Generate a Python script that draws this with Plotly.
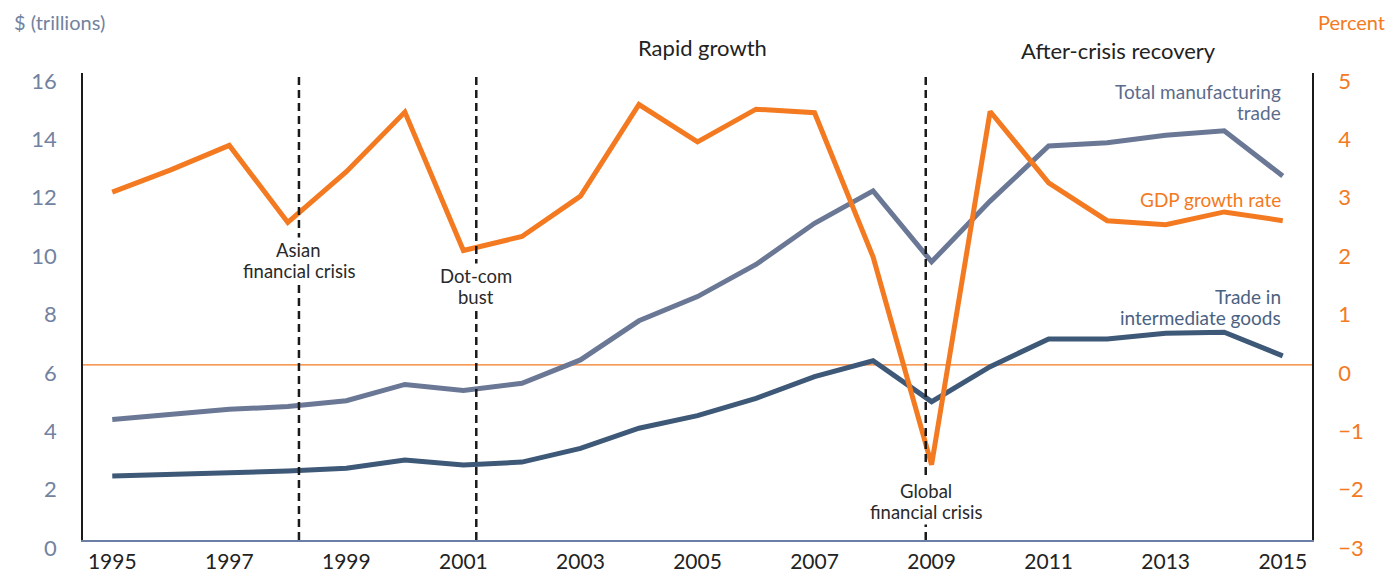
import plotly.graph_objects as go

years = list(range(1995, 2016))
total_manufacturing = [4.13, 4.32, 4.48, 4.57, 4.77, 5.33, 5.12, 5.37, 6.17, 7.51, 8.34,
                       9.44, 10.85, 11.96, 9.53, 11.61, 13.50, 13.61, 13.87, 14.02, 12.47]
intermediate_goods = [2.19, 2.24, 2.32, 2.36, 2.46, 2.74, 2.57, 2.67, 3.14, 3.83, 4.26,
                      4.85, 5.60, 6.14, 4.74, 5.94, 6.89, 6.89, 7.08, 7.12, 6.31]
gdp_growth = [2.96, 3.34, 3.76, 2.44, 3.31, 4.33, 1.96, 2.20, 2.89, 4.46, 3.82,
              4.38, 4.32, 1.85, -1.71, 4.34, 3.12, 2.47, 2.40, 2.62, 2.47]

left_ticks = list(range(0, 17, 2))
right_ticks = list(range(-3, 6))
x_ticks = list(range(1995, 2016, 2))

events = [(["Asian", "financial crisis"], 1998.19, 9.59),
          (["Dot-com", "bust"], 2001.22, 8.67),
          (["Global", "financial crisis"], 2008.9, 1.31)]

ORANGE = "#f37a21"
SLATE = "#6a7896"
DARK = "#3e5877"
TICK_SLATE = "#7282a0"
FONT = "Lato"
LINE_GAP = 21

fig = go.Figure()
fig.add_trace(go.Scatter(x=years, y=intermediate_goods, mode="lines",
                         line=dict(color=DARK, width=5), yaxis="y", showlegend=False))
fig.add_trace(go.Scatter(x=years, y=total_manufacturing, mode="lines",
                         line=dict(color=SLATE, width=5), yaxis="y", showlegend=False))
fig.add_trace(go.Scatter(x=years, y=gdp_growth, mode="lines",
                         line=dict(color=ORANGE, width=5), yaxis="y2", showlegend=False))

# zero line for GDP growth
fig.add_shape(type="line", xref="paper", x0=0, x1=1, yref="y2", y0=0, y1=0,
              line=dict(color=ORANGE, width=1.3), layer="below")


def multiline(lines, x, y, xanchor, font, bg=None):
    n = len(lines)
    for i, ln in enumerate(lines):
        shift = ((n - 1) / 2 - i) * LINE_GAP
        kw = dict(bgcolor=bg) if bg else {}
        fig.add_annotation(text=ln, x=x, y=y, xref="x", yref="y", yshift=shift,
                           showarrow=False, xanchor=xanchor, yanchor="middle",
                           font=font, **kw)


for lines, xv, yv in events:
    fig.add_shape(type="line", xref="x", x0=xv, x1=xv, yref="paper", y0=0, y1=1,
                  line=dict(color="#1a1a1a", width=2.5, dash="8px,5px"), layer="above")
    multiline(lines, xv, yv, "center", dict(family=FONT, size=18.5, color="#2a2a2a"), bg="white")

multiline(["Total manufacturing", "trade"], 2015, 14.99, "right",
          dict(family=FONT, size=19, color="#5b6b8b"))
multiline(["GDP growth rate"], 2015, 11.68, "right",
          dict(family=FONT, size=19, color=ORANGE))
multiline(["Trade in", "intermediate goods"], 2015, 7.97, "right",
          dict(family=FONT, size=19, color="#4a6282"))

fig.add_annotation(text="Rapid growth", x=2005.08, y=1.054, xref="x", yref="paper",
                   showarrow=False, xanchor="center", yanchor="middle",
                   font=dict(family=FONT, size=22, color="#222222"))
fig.add_annotation(text="After-crisis recovery", x=2012.2, y=1.049, xref="x", yref="paper",
                   showarrow=False, xanchor="center", yanchor="middle",
                   font=dict(family=FONT, size=22, color="#222222"))
fig.add_annotation(text="$ (trillions)", x=-0.058, y=1.109, xref="paper", yref="paper",
                   showarrow=False, xanchor="left", yanchor="middle",
                   font=dict(family=FONT, size=20, color=TICK_SLATE))
fig.add_annotation(text="Percent", x=1.061, y=1.109, xref="paper", yref="paper",
                   showarrow=False, xanchor="right", yanchor="middle",
                   font=dict(family=FONT, size=20, color=ORANGE))

fig.update_layout(
    width=1390, height=573,
    margin=dict(l=83, r=78, t=73, b=33, autoexpand=False),
    paper_bgcolor="white", plot_bgcolor="white",
    font=dict(family=FONT),
    xaxis=dict(range=[1994.5, 2015.5], tickvals=x_ticks, ticktext=[str(v) for v in x_ticks],
               showgrid=False, zeroline=False, showline=True, linecolor="#6a7ea6", linewidth=1.5,
               ticks="", tickfont=dict(family=FONT, size=21, color="#222222"),
               ticklabelstandoff=2, automargin=False),
    yaxis=dict(range=[0, 16], tickvals=left_ticks, showgrid=False, zeroline=False,
               showline=True, linecolor="#1a1a1a", linewidth=1.5, ticks="",
               tickfont=dict(family=FONT, size=22, color=TICK_SLATE),
               ticklabelstandoff=20, ticklabelshift=8, automargin=False),
    yaxis2=dict(range=[-3, 5], tickvals=right_ticks, overlaying="y", side="right",
                showgrid=False, zeroline=False, showline=True, linecolor="#1a1a1a",
                linewidth=1.5, ticks="", tickfont=dict(family=FONT, size=22, color=ORANGE),
                ticklabelstandoff=20, ticklabelshift=8, automargin=False),
)

fig.write_html("out.html", config={"displayModeBar": False},
               post_script="document.body.style.margin='0';document.body.style.overflow='hidden';")
